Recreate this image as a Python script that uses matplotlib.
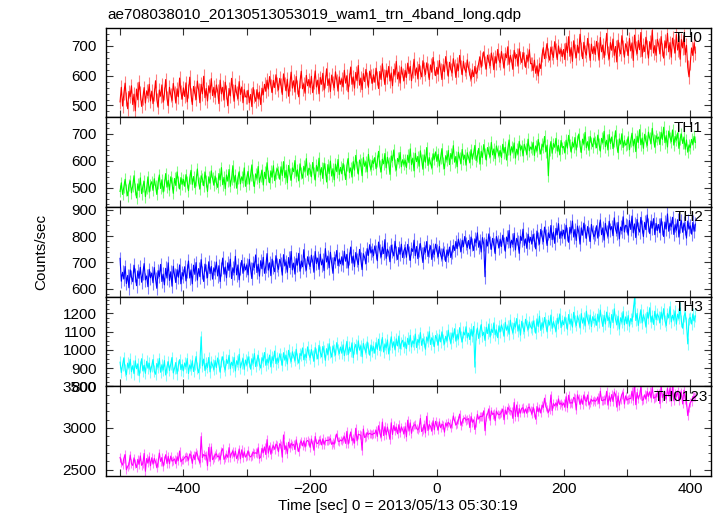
import numpy as np
import matplotlib
matplotlib.use("Agg")
import matplotlib.pyplot as plt
from matplotlib.colors import to_rgba
from matplotlib.ticker import MultipleLocator

plt.rcParams['font.family'] = ['Liberation Sans', 'DejaVu Sans']
plt.rcParams['font.size'] = 11

title = "ae708038010_20130513053019_wam1_trn_4band_long.qdp"
xlabel = "Time [sec] 0 = 2013/05/13 05:30:19"
ylabel = "Counts/sec"

# 2 s bins starting at -500 s
t_start, t_bin, n_bins = -500, 2, 455

th0 = [
    512, 561, 498, 540, 575, 521, 489, 547, 530, 566, 503, 538, 482, 555, 519, 578, 541, 497, 526, 560, 508, 549, 533, 571, 515,
    548, 506, 537, 583, 520, 494, 552, 531, 569, 511, 540, 587, 524, 499, 561, 536, 517, 574, 543, 508, 556, 529, 592, 546, 521,
    559, 530, 576, 512, 548, 595, 537, 503, 564, 541, 520, 582, 552, 509, 571, 539, 598, 526, 557, 515, 566, 544, 590, 533, 561,
    527, 569, 548, 506, 585, 539, 561, 518, 578, 544, 499, 557, 532, 591, 550, 514, 568, 541, 523, 580, 537, 562, 509, 553, 529,
    528, 551, 509, 537, 496, 560, 531, 514, 553, 522, 545, 503, 558, 536, 571, 548, 585, 555, 597, 567, 543, 584, 560, 603, 572,
    552, 591, 568, 537, 606, 574, 549, 588, 531, 570, 612, 558, 583, 545, 597, 563, 529, 580, 615, 556, 572, 541, 601, 566, 587,
    560, 598, 543, 577, 616, 562, 585, 539, 594, 571, 608, 552, 580, 623, 567, 590, 547, 602, 576, 559, 613, 584, 548, 596, 571,
    589, 562, 618, 575, 600, 546, 587, 629, 571, 596, 558, 611, 583, 634, 568, 592, 553, 607, 580, 621, 590, 561, 615, 598, 574,
    603, 578, 625, 592, 557, 614, 587, 640, 599, 570, 618, 595, 631, 582, 609, 566, 621, 603, 648, 589, 612, 575, 629, 604, 583,
    618, 594, 642, 607, 631, 583, 615, 655, 601, 626, 589, 638, 613, 596, 650, 622, 604, 643, 618, 587, 636, 612, 661, 625, 600,
    628, 605, 651, 619, 587, 637, 613, 664, 626, 598, 645, 621, 609, 657, 632, 594, 640, 617, 668, 629, 603, 648, 622, 611, 653,
    626, 604, 588, 619, 597, 631, 606, 614, 642, 663, 628, 657, 680, 644, 622, 669, 650, 633, 676, 655, 620, 664, 642, 688, 653,
    643, 681, 652, 625, 674, 660, 697, 638, 668, 650, 621, 685, 657, 671, 632, 690, 661, 644, 678, 655, 628, 669, 649, 687, 640,
    641, 617, 652, 608, 633, 599, 640, 624, 668, 694, 657, 683, 708, 669, 652, 696, 677, 661, 714, 686, 654, 700, 673, 688, 664,
    688, 654, 709, 677, 731, 665, 694, 648, 717, 683, 660, 702, 676, 739, 690, 657, 712, 681, 669, 725, 687, 651, 706, 674, 698,
    671, 715, 689, 652, 728, 680, 703, 661, 694, 742, 677, 656, 711, 685, 723, 668, 698, 646, 719, 689, 673, 734, 696, 662, 707,
    694, 667, 725, 683, 710, 651, 736, 692, 674, 718, 687, 745, 664, 703, 681, 729, 697, 659, 714, 688, 752, 676, 701, 668, 722,
    705, 673, 731, 688, 659, 717, 694, 742, 680, 711, 662, 726, 699, 676, 738, 686, 713, 655, 721, 693, 734, 670, 702, 628, 596,
    641, 693, 668, 710, 676,
]
th1 = [
    487, 519, 476, 503, 532, 494, 471, 511, 526, 482, 508, 545, 497, 463, 515, 490, 537, 479, 506, 524, 468, 499, 541, 485, 512,
    523, 491, 534, 507, 476, 519, 548, 498, 530, 485, 512, 553, 503, 528, 492, 541, 517, 480, 535, 509, 559, 523, 496, 538, 514,
    531, 506, 549, 522, 490, 537, 565, 513, 542, 501, 528, 570, 519, 496, 545, 532, 508, 559, 524, 487, 541, 518, 563, 535, 510,
    544, 519, 502, 553, 530, 575, 512, 539, 497, 548, 525, 568, 506, 534, 582, 521, 547, 499, 537, 560, 515, 541, 527, 574, 506,
    538, 561, 514, 547, 585, 528, 505, 552, 536, 579, 520, 543, 566, 511, 558, 534, 593, 545, 519, 563, 540, 582, 527, 555, 571,
    559, 532, 578, 546, 597, 538, 565, 519, 583, 551, 528, 574, 560, 601, 543, 567, 526, 589, 555, 536, 580, 562, 608, 547, 573,
    567, 541, 594, 556, 529, 583, 562, 610, 548, 575, 535, 591, 569, 522, 586, 553, 599, 544, 571, 530, 588, 560, 605, 549, 576,
    552, 590, 568, 531, 583, 609, 557, 574, 540, 597, 566, 620, 578, 551, 603, 587, 545, 612, 580, 596, 559, 624, 585, 568, 601,
    590, 612, 571, 598, 635, 582, 559, 606, 589, 627, 574, 613, 592, 550, 618, 601, 640, 585, 566, 609, 596, 631, 578, 604, 587,
    602, 575, 621, 593, 644, 586, 610, 563, 628, 597, 616, 580, 637, 604, 569, 622, 595, 649, 583, 612, 591, 574, 626, 606, 633,
    598, 624, 581, 612, 645, 593, 571, 619, 603, 638, 586, 627, 609, 656, 595, 616, 578, 632, 611, 590, 642, 605, 621, 584, 630,
    613, 594, 641, 606, 628, 657, 601, 619, 646, 588, 635, 612, 660, 627, 603, 649, 631, 614, 668, 622, 644, 608, 655, 637, 619,
    638, 612, 661, 629, 650, 603, 644, 677, 621, 652, 633, 666, 610, 643, 625, 672, 639, 655, 618, 661, 645, 624, 680, 637, 651,
    642, 668, 620, 655, 637, 679, 646, 625, 662, 651, 690, 633, 658, 545, 641, 671, 628, 664, 650, 683, 636, 657, 622, 675, 648,
    653, 629, 676, 647, 694, 658, 632, 669, 651, 686, 640, 673, 699, 655, 631, 680, 662, 705, 648, 671, 639, 690, 666, 652, 684,
    670, 648, 695, 661, 636, 683, 667, 709, 652, 676, 640, 697, 664, 688, 645, 672, 711, 657, 630, 681, 662, 700, 649, 675, 658,
    663, 689, 641, 674, 702, 655, 680, 634, 691, 668, 715, 659, 684, 646, 698, 672, 657, 706, 683, 664, 720, 677, 650, 693, 681,
    688, 660, 705, 679, 724, 667, 693, 651, 710, 686, 671, 714, 658, 690, 676, 703, 646, 682, 699, 664, 688, 643, 677, 632, 659,
    648, 679, 661, 690, 668,
]
th2 = [
    715, 628, 662, 637, 684, 619, 650, 603, 671, 644, 626, 689, 652, 611, 667, 639, 681, 624, 658, 695, 633, 648, 607, 673, 641,
    659, 622, 680, 637, 601, 668, 646, 692, 627, 655, 614, 677, 640, 698, 631, 664, 609, 685, 651, 623, 672, 643, 690, 618, 661,
    647, 683, 629, 666, 705, 640, 671, 618, 689, 654, 699, 632, 676, 645, 710, 661, 627, 693, 668, 641, 702, 657, 684, 636, 679,
    663, 701, 648, 687, 627, 674, 716, 655, 682, 641, 698, 669, 712, 638, 679, 660, 723, 652, 690, 633, 676, 707, 658, 694, 671,
    689, 652, 711, 674, 638, 697, 680, 728, 661, 693, 647, 706, 675, 719, 658, 684, 733, 670, 698, 649, 712, 681, 664, 725, 690,
    673, 711, 694, 651, 729, 686, 702, 662, 718, 680, 741, 671, 697, 655, 714, 689, 734, 666, 705, 683, 748, 692, 670, 721, 699,
    684, 727, 703, 662, 741, 695, 716, 673, 731, 690, 709, 668, 752, 701, 722, 679, 738, 696, 658, 718, 705, 745, 687, 713, 694,
    721, 689, 742, 704, 730, 678, 715, 758, 697, 724, 683, 737, 709, 691, 749, 712, 672, 733, 718, 695, 752, 726, 767, 735, 748,
    725, 762, 739, 706, 777, 744, 720, 758, 733, 786, 715, 750, 737, 702, 765, 742, 724, 780, 735, 711, 756, 731, 769, 718, 744,
    756, 719, 768, 735, 707, 752, 741, 784, 725, 760, 714, 747, 771, 733, 699, 756, 738, 779, 722, 745, 763, 711, 748, 730, 769,
    744, 721, 760, 729, 712, 751, 735, 703, 747, 726, 758, 718, 739, 764, 745, 779, 752, 788, 767, 741, 784, 760, 798, 772, 756,
    783, 751, 796, 768, 745, 789, 774, 812, 757, 781, 739, 794, 770, 645, 786, 762, 808, 775, 749, 791, 767, 733, 798, 779, 755,
    788, 760, 803, 771, 742, 796, 779, 821, 755, 784, 768, 810, 747, 791, 776, 734, 799, 783, 826, 764, 789, 753, 807, 775, 795,
    770, 806, 784, 751, 819, 790, 769, 825, 797, 778, 834, 801, 764, 812, 793, 840, 786, 815, 772, 829, 805, 847, 791, 818, 800,
    822, 789, 841, 808, 776, 833, 812, 857, 796, 825, 783, 838, 814, 769, 831, 803, 849, 818, 791, 836, 807, 779, 844, 815, 797,
    808, 839, 792, 826, 861, 805, 831, 784, 848, 817, 799, 856, 823, 836, 801, 869, 827, 810, 852, 789, 834, 820, 873, 815, 841,
    837, 803, 859, 825, 876, 812, 846, 794, 863, 829, 815, 871, 836, 798, 852, 824, 880, 841, 809, 857, 830, 866, 805, 848, 821,
    844, 812, 866, 831, 798, 853, 827, 884, 818, 849, 835, 871, 806, 843, 822, 862, 796, 838, 858, 814, 849, 831, 792, 857, 826,
    839, 807, 852, 818, 845,
]
th3 = [
    932, 875, 918, 956, 889, 864, 927, 901, 948, 880, 913, 869, 940, 896, 922, 858, 905, 951, 884, 915, 871, 937, 899, 926, 878,
    912, 947, 883, 866, 925, 904, 953, 877, 918, 890, 941, 862, 907, 935, 886, 921, 958, 873, 899, 930, 868, 914, 946, 891, 920,
    884, 928, 906, 952, 870, 917, 895, 940, 881, 923, 963, 899, 874, 931, 1071, 912, 949, 886, 926, 903, 958, 879, 934, 915, 892,
    941, 902, 955, 918, 877, 936, 962, 910, 889, 947, 925, 970, 896, 932, 913, 958, 884, 940, 919, 975, 901, 928, 951, 893, 944,
    917, 962, 935, 894, 951, 926, 979, 908, 943, 969, 921, 900, 957, 938, 985, 915, 949, 928, 971, 906, 962, 940, 993, 924, 955,
    931, 978, 950, 915, 984, 943, 969, 922, 997, 958, 936, 989, 964, 941, 1003, 952, 927, 980, 968, 1010, 945, 976, 957, 1016, 974,
    956, 1001, 968, 937, 1012, 979, 950, 1024, 986, 961, 1018, 993, 942, 1006, 975, 1033, 988, 960, 1021, 998, 971, 1039, 1002, 979, 1015,
    982, 1027, 968, 1005, 1046, 973, 1014, 991, 1038, 957, 1010, 1029, 976, 1049, 998, 1021, 962, 1035, 1007, 985, 1043, 1011, 970, 1026, 995,
    1017, 981, 1039, 1002, 1058, 996, 1025, 1067, 988, 1032, 1010, 1054, 977, 1029, 1071, 1013, 1044, 999, 1060, 1021, 1075, 1006, 1038, 1052, 1016,
    1041, 1006, 1063, 1028, 1079, 1015, 1049, 1033, 1086, 1012, 1057, 1038, 1094, 1024, 1061, 1045, 1003, 1070, 1047, 1099, 1029, 1066, 1051, 1017, 1078,
    1060, 1025, 1082, 1043, 1098, 1056, 1031, 1074, 1049, 1107, 1063, 1036, 1092, 1068, 1115, 1047, 1084, 1059, 1121, 1072, 1043, 1097, 1081, 1126, 1065,
    1091, 1056, 1112, 1074, 1128, 905, 1083, 1119, 1062, 1104, 1138, 1077, 1096, 1051, 1123, 1089, 1141, 1070, 1113, 1095, 1147, 1082, 1109, 1066, 1131,
    1098, 1136, 1112, 1074, 1150, 1107, 1129, 1085, 1162, 1118, 1093, 1145, 1124, 1171, 1102, 1138, 1080, 1156, 1121, 1099, 1167, 1133, 1110, 1152, 1126,
    1115, 1158, 1132, 1091, 1169, 1127, 1184, 1106, 1148, 1123, 1177, 1139, 1098, 1161, 1135, 1190, 1117, 1154, 1129, 1101, 1172, 1145, 1196, 1121, 1160,
    1137, 1179, 1150, 1112, 1193, 1141, 1168, 1124, 1205, 1157, 1133, 1186, 1162, 1119, 1198, 1146, 1174, 1130, 1211, 1165, 1143, 1190, 1127, 1181, 1159,
    1170, 1134, 1195, 1152, 1217, 1163, 1128, 1188, 1141, 1206, 1159, 1177, 1121, 1193, 1149, 1224, 1166, 1138, 1184, 1113, 1175, 1151, 1209, 1136, 1180,
    1142, 1187, 1129, 1171, 1155, 1214, 1281, 1160, 1199, 1133, 1178, 1219, 1147, 1192, 1168, 1124, 1205, 1173, 1230, 1152, 1186, 1139, 1211, 1165, 1197,
    1181, 1148, 1206, 1167, 1225, 1159, 1133, 1198, 1174, 1236, 1152, 1189, 1164, 1213, 1140, 1195, 1171, 1229, 1156, 1118, 1183, 1202, 1145, 1032, 1168,
    1177, 1141, 1196, 1158, 1185,
]

band_names = ["TH0", "TH1", "TH2", "TH3", "TH0123"]
band_colors = ["#ff0000", "#00ff00", "#0000ff", "#00ffff", "#ff00ff"]
band_errors = [23, 22, 26, 32, 52]

y_limits = [(460.6, 761.6), (430, 761), (569.4, 910.7), (800, 1291), (2423, 3501)]
y_majors = [[500, 600, 700], [500, 600, 700], [600, 700, 800, 900],
            [800, 900, 1000, 1100, 1200], [2500, 3000, 3500]]
y_minor_step = [20, 20, 20, 25, 100]
label_right = [0.986, 0.986, 0.988, 0.988, 0.996]

x_limits = (-522, 432)
x_ticks = [-500, -400, -300, -200, -100, 0, 100, 200, 300, 400]
x_ticklabels = ["", "\u2212400", "", "\u2212200", "", "0", "", "200", "", "400"]

t = t_start + t_bin * np.arange(n_bins)
# TH0123 is the sum of the four bands
total = np.array(th0) + np.array(th1) + np.array(th2) + np.array(th3)
series = [np.array(th0), np.array(th1), np.array(th2), np.array(th3), total]

fig = plt.figure(figsize=(7.17, 5.16), dpi=100)
axes = fig.subplots(5, 1, sharex=True, gridspec_kw=dict(hspace=0))
fig.subplots_adjust(left=0.148, right=0.991, top=0.9467, bottom=0.0775)

for i, ax in enumerate(axes):
    c = band_colors[i]
    ax.errorbar(t, series[i], yerr=band_errors[i], fmt='none',
                ecolor=to_rgba(c, 0.5), elinewidth=0.8)
    ax.plot(t, series[i], color=c, lw=0.8)
    ax.set_xlim(*x_limits)
    ax.set_ylim(*y_limits[i])
    ax.set_yticks(y_majors[i])
    ax.yaxis.set_minor_locator(MultipleLocator(y_minor_step[i]))
    ax.set_xticks(x_ticks)
    ax.tick_params(which='both', direction='in', top=True, right=True,
                   color='#333333', labelsize=11)
    ax.tick_params(which='major', length=5, width=0.8)
    ax.tick_params(which='minor', length=2.5, width=0.6)
    ax.tick_params(axis='y', pad=7)
    ax.tick_params(axis='x', pad=4)
    for sp in ax.spines.values():
        sp.set_linewidth(1.0)
    ax.text(label_right[i], 0.883, band_names[i], transform=ax.transAxes,
            ha='right', va='center', fontsize=11)

axes[-1].set_xticklabels(x_ticklabels)

fig.text(107 / 717, 1 - 19.3 / 516, title, ha='left', va='baseline', fontsize=11)
fig.text(397.5 / 717, 1 - 510 / 516, xlabel, ha='center', va='baseline', fontsize=11)
fig.text(41 / 717, 1 - 252 / 516, ylabel, rotation=90, ha='center', va='center', fontsize=11)

fig.savefig("out.png", dpi=100)
